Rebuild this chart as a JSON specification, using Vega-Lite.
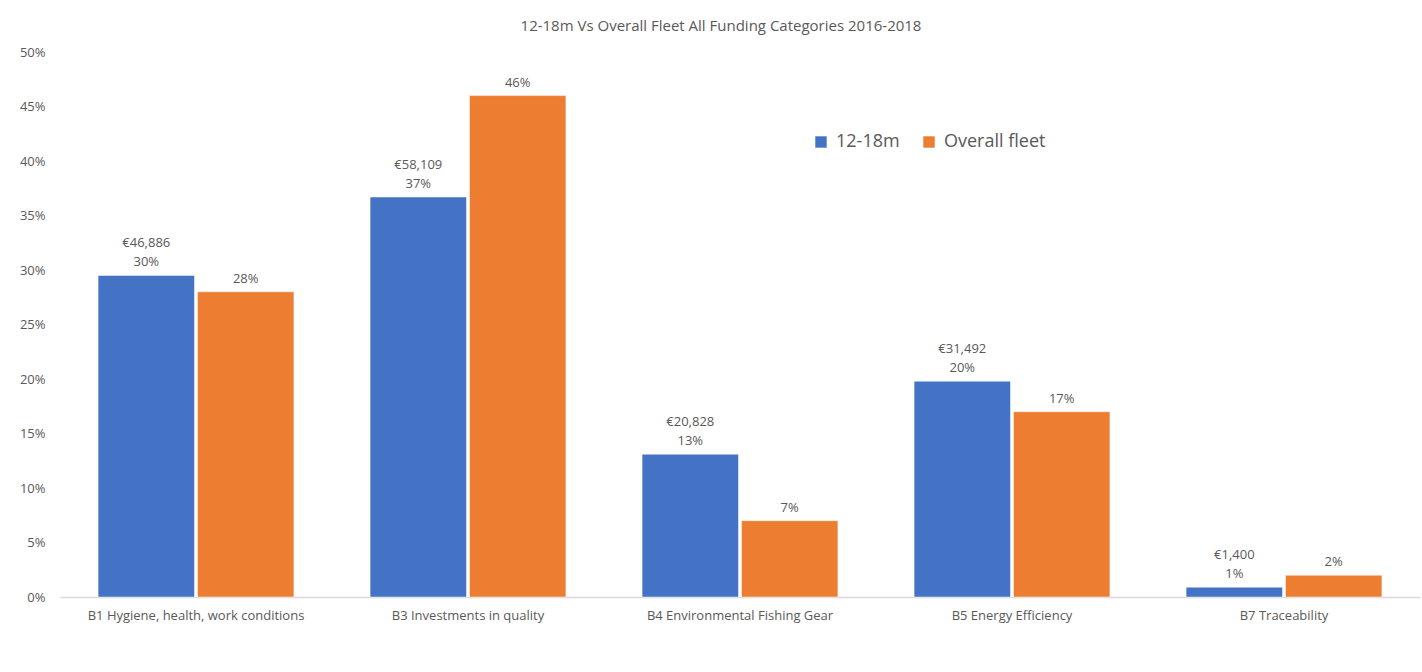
{
  "$schema": "https://vega.github.io/schema/vega-lite/v6.json",
  "autosize": "none",
  "width": 1360,
  "height": 545,
  "padding": {"left": 60, "top": 52, "right": 2, "bottom": 75},
  "background": "white",
  "title": {
    "text": "12-18m Vs Overall Fleet All Funding Categories 2016-2018",
    "fontSize": 15,
    "fontWeight": "normal",
    "font": "Open Sans",
    "color": "#595959",
    "anchor": "middle",
    "dx": -19,
    "offset": 12
  },
  "config": {
    "view": {"stroke": null},
    "font": "Open Sans"
  },
  "data": {
    "values": [
      {"category": "B1 Hygiene, health, work conditions", "series": "12-18m", "value": 0.295, "amount": "€46,886", "pct": "30%"},
      {"category": "B1 Hygiene, health, work conditions", "series": "Overall fleet", "value": 0.28, "amount": "", "pct": "28%"},
      {"category": "B3 Investments in quality", "series": "12-18m", "value": 0.367, "amount": "€58,109", "pct": "37%"},
      {"category": "B3 Investments in quality", "series": "Overall fleet", "value": 0.46, "amount": "", "pct": "46%"},
      {"category": "B4 Environmental Fishing Gear", "series": "12-18m", "value": 0.131, "amount": "€20,828", "pct": "13%"},
      {"category": "B4 Environmental Fishing Gear", "series": "Overall fleet", "value": 0.07, "amount": "", "pct": "7%"},
      {"category": "B5 Energy Efficiency", "series": "12-18m", "value": 0.198, "amount": "€31,492", "pct": "20%"},
      {"category": "B5 Energy Efficiency", "series": "Overall fleet", "value": 0.17, "amount": "", "pct": "17%"},
      {"category": "B7 Traceability", "series": "12-18m", "value": 0.009, "amount": "€1,400", "pct": "1%"},
      {"category": "B7 Traceability", "series": "Overall fleet", "value": 0.02, "amount": "", "pct": "2%"}
    ]
  },
  "encoding": {
    "x": {
      "field": "category",
      "type": "nominal",
      "sort": null,
      "scale": {"paddingInner": 0.28, "paddingOuter": 0.14},
      "axis": {
        "title": null,
        "labelAngle": 0,
        "labelFontSize": 13,
        "labelColor": "#595959",
        "labelPadding": 12,
        "labelLimit": 0,
        "ticks": false,
        "domainColor": "#d9d9d9",
        "domainWidth": 1.5
      }
    },
    "xOffset": {"field": "series", "type": "nominal", "scale": {"paddingInner": 0.03}},
    "y": {
      "field": "value",
      "type": "quantitative",
      "scale": {"domain": [0, 0.5], "nice": false},
      "axis": {
        "title": null,
        "format": ".0%",
        "values": [0, 0.05, 0.1, 0.15, 0.2, 0.25, 0.3, 0.35, 0.4, 0.45, 0.5],
        "grid": false,
        "domain": false,
        "ticks": false,
        "labelFontSize": 13,
        "labelColor": "#595959",
        "labelPadding": 15
      }
    }
  },
  "layer": [
    {
      "mark": {"type": "bar", "stroke": "white", "strokeWidth": 0.5},
      "encoding": {
        "color": {
          "field": "series",
          "type": "nominal",
          "scale": {"domain": ["12-18m", "Overall fleet"], "range": ["#4472C4", "#ED7D31"]},
          "legend": {
            "title": null,
            "orient": "none",
            "direction": "horizontal",
            "legendX": 752,
            "legendY": 81,
            "symbolType": "square",
            "symbolSize": 130,
            "symbolStrokeWidth": 0,
            "labelFontSize": 18,
            "labelColor": "#595959",
            "columnPadding": 20,
            "labelOffset": 6
          }
        }
      }
    },
    {
      "mark": {"type": "text", "baseline": "bottom", "dy": -6, "fontSize": 13, "color": "#595959"},
      "encoding": {"text": {"field": "pct"}}
    },
    {
      "mark": {"type": "text", "baseline": "bottom", "dy": -25, "fontSize": 13, "color": "#595959"},
      "encoding": {"text": {"field": "amount"}}
    }
  ]
}
